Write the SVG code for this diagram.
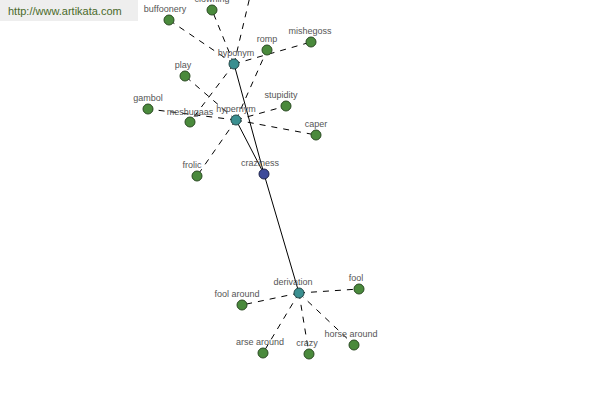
<svg xmlns="http://www.w3.org/2000/svg" width="600" height="400" viewBox="0 0 600 400">
<style>
.bg{fill:#ffffff}
.hdr{fill:#eeeeee}
.url{font-family:"Liberation Sans",Arial,sans-serif;font-size:11px;fill:#4a6a2a}
.lbl{font-family:"Liberation Sans",Arial,sans-serif;font-size:9px;fill:#555555;text-anchor:middle}
.solid{stroke:#000000;stroke-width:1;fill:none}
.dash{stroke:#000000;stroke-width:1;fill:none;stroke-dasharray:6,6}
.leaf{fill:#4a8a3c;stroke:#2a4a22;stroke-width:1}
.rel{fill:#3a8f90;stroke:#224848;stroke-width:1}
.root{fill:#3d4a9a;stroke:#1e244a;stroke-width:1}
</style>
<rect class="bg" x="0" y="0" width="600" height="400"/>
<rect class="hdr" x="0" y="0" width="138" height="21"/>
<text class="url" x="8" y="15">http://www.artikata.com</text>
<g id="connectors">
<line class="solid" x1="234" y1="64" x2="264" y2="174"/>
<line class="solid" x1="236" y1="120" x2="264" y2="174"/>
<line class="solid" x1="264" y1="174" x2="299" y2="293"/>
<line class="dash" x1="234" y1="64" x2="212" y2="10"/>
<line class="dash" x1="234" y1="64" x2="169" y2="20"/>
<line class="dash" x1="234" y1="64" x2="311" y2="42"/>
<line class="dash" x1="234" y1="64" x2="190" y2="122"/>
<line class="dash" x1="234" y1="64" x2="252" y2="-12"/>
<line class="dash" x1="236" y1="120" x2="267" y2="50"/>
<line class="dash" x1="236" y1="120" x2="185" y2="76"/>
<line class="dash" x1="236" y1="120" x2="148" y2="109"/>
<line class="dash" x1="236" y1="120" x2="286" y2="106"/>
<line class="dash" x1="236" y1="120" x2="316" y2="135"/>
<line class="dash" x1="236" y1="120" x2="197" y2="176"/>
<line class="dash" x1="299" y1="293" x2="242" y2="305"/>
<line class="dash" x1="299" y1="293" x2="359" y2="289"/>
<line class="dash" x1="299" y1="293" x2="263" y2="353"/>
<line class="dash" x1="299" y1="293" x2="309" y2="354"/>
<line class="dash" x1="299" y1="293" x2="354" y2="345"/>
</g>
<g id="clowning"><circle class="leaf" cx="212" cy="10" r="5"/><text class="lbl" x="212" y="2">clowning</text></g>
<g id="buffoonery"><circle class="leaf" cx="169" cy="20" r="5"/><text class="lbl" x="165" y="12">buffoonery</text></g>
<g id="romp"><circle class="leaf" cx="267" cy="50" r="5"/><text class="lbl" x="267" y="42">romp</text></g>
<g id="mishegoss"><circle class="leaf" cx="311" cy="42" r="5"/><text class="lbl" x="310" y="34">mishegoss</text></g>
<g id="play"><circle class="leaf" cx="185" cy="76" r="5"/><text class="lbl" x="183" y="68">play</text></g>
<g id="gambol"><circle class="leaf" cx="148" cy="109" r="5"/><text class="lbl" x="148" y="101">gambol</text></g>
<g id="meshugaas"><circle class="leaf" cx="190" cy="122" r="5"/><text class="lbl" x="190" y="115">meshugaas</text></g>
<g id="stupidity"><circle class="leaf" cx="286" cy="106" r="5"/><text class="lbl" x="281" y="98">stupidity</text></g>
<g id="caper"><circle class="leaf" cx="316" cy="135" r="5"/><text class="lbl" x="316" y="127">caper</text></g>
<g id="frolic"><circle class="leaf" cx="197" cy="176" r="5"/><text class="lbl" x="192" y="168">frolic</text></g>
<g id="hyponym"><circle class="rel" cx="234" cy="64" r="5"/><text class="lbl" x="236" y="56">hyponym</text></g>
<g id="hypernym"><circle class="rel" cx="236" cy="120" r="5"/><text class="lbl" x="236" y="112">hypernym</text></g>
<g id="craziness"><circle class="root" cx="264" cy="174" r="5"/><text class="lbl" x="260" y="166">craziness</text></g>
<g id="derivation"><circle class="rel" cx="299" cy="293" r="5"/><text class="lbl" x="293" y="285">derivation</text></g>
<g id="fool_around"><circle class="leaf" cx="242" cy="305" r="5"/><text class="lbl" x="237" y="297">fool around</text></g>
<g id="fool"><circle class="leaf" cx="359" cy="289" r="5"/><text class="lbl" x="356" y="281">fool</text></g>
<g id="arse_around"><circle class="leaf" cx="263" cy="353" r="5"/><text class="lbl" x="260" y="345">arse around</text></g>
<g id="crazy"><circle class="leaf" cx="309" cy="354" r="5"/><text class="lbl" x="307" y="346">crazy</text></g>
<g id="horse_around"><circle class="leaf" cx="354" cy="345" r="5"/><text class="lbl" x="351" y="337">horse around</text></g>
</svg>
